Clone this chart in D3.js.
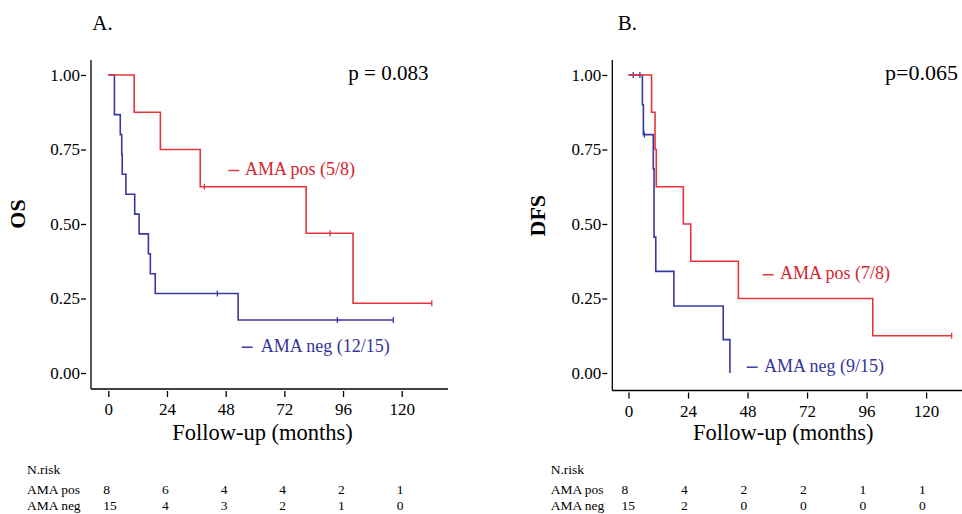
<!DOCTYPE html>
<html>
<head>
<meta charset="utf-8">
<script src="https://cdn.jsdelivr.net/npm/d3@7"></script>
<style>
  html, body { margin: 0; padding: 0; background: #fff; }
  svg { display: block; font-family: "Liberation Serif", "Times New Roman", serif; }
</style>
</head>
<body>
<svg id="chart" width="962" height="514"></svg>
<script>
// ---------- DATA ----------
const riskTimes = [0, 24, 48, 72, 96, 120];
const yTicks = [0, 0.25, 0.5, 0.75, 1];

// Panel A: overall survival
const osPosTimes  = [0, 10.6, 21.3, 37.6, 80.9, 100.1];
const osPosSurv   = [1, 0.875, 0.75, 0.625, 0.469, 0.234];
const osPosCensor = [39.3, 90.7, 132.3];
const osNegTimes  = [0, 2.5, 4.9, 5.5, 5.7, 7.2, 10.8, 12.6, 16.4, 17.2, 19.2, 53.1];
const osNegSurv   = [1, 0.867, 0.8, 0.733, 0.667, 0.6, 0.533, 0.467, 0.4, 0.333, 0.267, 0.178];
const osNegCensor = [44.6, 93.7, 116.6];
const osRiskPos = [8, 6, 4, 4, 2, 1];
const osRiskNeg = [15, 4, 3, 2, 1, 0];

// Panel B: disease-free survival
const dfsPosTimes  = [0, 9.3, 10.7, 11.2, 22.1, 25.1, 44.3, 98.5];
const dfsPosSurv   = [1, 0.875, 0.75, 0.625, 0.5, 0.375, 0.25, 0.125];
const dfsPosCensor = [130.3];
const dfsNegTimes  = [0, 5.6, 6.0, 10.0, 10.3, 11.0, 18.3, 38.2, 40.9];
const dfsNegSurv   = [1, 0.9, 0.8, 0.685, 0.456, 0.341, 0.225, 0.112, 0];
const dfsNegCensor = [1.9, 4.6, 6.4];
const dfsRiskPos = [8, 4, 2, 2, 1, 1];
const dfsRiskNeg = [15, 2, 0, 0, 0, 0];

const groupLabels = ["AMA pos", "AMA neg"];
const RED = "#e6353a", BLUE = "#3838a0";
const RED_TXT = "#d4252c", BLUE_TXT = "#34349a";

// ---------- DRAW ----------
const svg = d3.select("#chart");

function panel(cfg) {
  const g = svg.append("g");
  const x = d3.scaleLinear().domain([0, 120]).range([cfg.x0, cfg.x120]);
  const y = d3.scaleLinear().domain([0, 1]).range([373, 75]);

  // axis lines (L shape)
  g.append("line").attr("x1", cfg.axisX).attr("x2", cfg.axisX)
    .attr("y1", 60).attr("y2", cfg.axisY).attr("stroke", "#000").attr("stroke-width", 1.3);
  g.append("line").attr("x1", cfg.axisX).attr("x2", cfg.xEnd)
    .attr("y1", cfg.axisY).attr("y2", cfg.axisY).attr("stroke", "#000").attr("stroke-width", 1.3);

  // x axis ticks
  const xa = g.append("g").attr("transform", `translate(0,${cfg.axisY + 2})`)
    .call(d3.axisBottom(x).tickValues(riskTimes).tickSize(6).tickPadding(6).tickFormat(d3.format("d")));
  xa.select(".domain").remove();
  xa.selectAll(".tick line").attr("stroke", "#000").attr("stroke-width", 1.3);
  xa.selectAll("text").attr("font-size", 17).attr("font-family", "Liberation Serif, serif").attr("fill", "#000");

  // y axis ticks
  const ya = g.append("g").attr("transform", `translate(${cfg.axisX - 5},0)`)
    .call(d3.axisLeft(y).tickValues(yTicks).tickSize(5).tickPadding(1).tickFormat(d3.format(".2f")));
  ya.select(".domain").remove();
  ya.selectAll(".tick line").attr("stroke", "#000").attr("stroke-width", 1.3);
  ya.selectAll("text").attr("font-size", 17).attr("font-family", "Liberation Serif, serif").attr("fill", "#000");

  // curves
  const line = d3.line().curve(d3.curveStepAfter).x(d => x(d[0])).y(d => y(d[1]));
  function survAt(times, surv, t) {
    let s = surv[0];
    for (let i = 0; i < times.length; i++) if (times[i] <= t) s = surv[i];
    return s;
  }
  cfg.curves.forEach(c => {
    const pts = c.times.map((t, i) => [t, c.surv[i]]);
    const lastC = d3.max(c.censor);
    if (lastC > c.times[c.times.length - 1]) pts.push([lastC, c.surv[c.surv.length - 1]]);
    g.append("path").attr("d", line(pts)).attr("fill", "none")
      .attr("stroke", c.color).attr("stroke-width", 1.6);
    g.selectAll(null).data(c.censor).enter().append("line")
      .attr("x1", d => x(d)).attr("x2", d => x(d))
      .attr("y1", d => y(survAt(c.times, c.surv, d)) - 3)
      .attr("y2", d => y(survAt(c.times, c.surv, d)) + 3)
      .attr("stroke", c.color).attr("stroke-width", 1.3);
    // legend
    g.append("line").attr("x1", c.lx).attr("x2", c.lx + 11)
      .attr("y1", c.ly - 4.5).attr("y2", c.ly - 4.5).attr("stroke", c.color).attr("stroke-width", 1.5);
    g.append("text").attr("x", c.lx + c.tdx).attr("y", c.ly).attr("font-size", 18)
      .attr("fill", c.txt).text(c.label);
  });

  // title, p-value, axis titles
  g.append("text").attr("x", cfg.titleX).attr("y", 30).attr("font-size", 21).text(cfg.title);
  g.append("text").attr("x", cfg.pX).attr("y", 80).attr("font-size", cfg.pSize).text(cfg.p);
  g.append("text").attr("x", cfg.xtX).attr("y", 440).attr("font-size", 22.5)
    .attr("text-anchor", "middle").text("Follow-up (months)");
  g.append("text").attr("transform", `translate(${cfg.ytX},${cfg.ytY}) rotate(-90)`)
    .attr("text-anchor", "middle").attr("dy", "0.35em")
    .attr("font-size", 22).attr("font-weight", "bold").text(cfg.yTitle);

  // risk table
  const rowsY = [474, 494, 510];
  g.append("text").attr("x", cfg.riskLabelX).attr("y", rowsY[0]).attr("font-size", 13.5).text("N.risk");
  [cfg.riskPos, cfg.riskNeg].forEach((arr, r) => {
    g.append("text").attr("x", cfg.riskLabelX).attr("y", rowsY[r + 1]).attr("font-size", 13.5).text(groupLabels[r]);
    g.selectAll(null).data(arr).enter().append("text")
      .attr("x", (d, i) => x(riskTimes[i]) + cfg.riskDx)
      .attr("y", rowsY[r + 1]).attr("font-size", 13.5).text(d => d);
  });
}

panel({
  x0: 108.3, x120: 401.7, axisX: 91, axisY: 389, xEnd: 448,
  title: "A.", titleX: 92.3, p: "p = 0.083", pX: 348.3, pSize: 21,
  xtX: 262.5, yTitle: "OS", ytX: 17, ytY: 214,
  riskLabelX: 27, riskDx: -5, riskPos: osRiskPos, riskNeg: osRiskNeg,
  curves: [
    { times: osNegTimes, surv: osNegSurv, censor: osNegCensor, color: BLUE, txt: BLUE_TXT,
      label: "AMA neg (12/15)", lx: 241.7, ly: 351.7, tdx: 19 },
    { times: osPosTimes, surv: osPosSurv, censor: osPosCensor, color: RED, txt: RED_TXT,
      label: "AMA pos (5/8)", lx: 228.3, ly: 175, tdx: 16.7 }
  ]
});

panel({
  x0: 628.5, x120: 926.1, axisX: 612.3, axisY: 390.5, xEnd: 962,
  title: "B.", titleX: 617.7, p: "p=0.065", pX: 885, pSize: 22,
  xtX: 783.3, yTitle: "DFS", ytX: 537, ytY: 215.7,
  riskLabelX: 550.7, riskDx: -7, riskPos: dfsRiskPos, riskNeg: dfsRiskNeg,
  curves: [
    { times: dfsNegTimes, surv: dfsNegSurv, censor: dfsNegCensor, color: BLUE, txt: BLUE_TXT,
      label: "AMA neg (9/15)", lx: 746.7, ly: 371.7, tdx: 17.3 },
    { times: dfsPosTimes, surv: dfsPosSurv, censor: dfsPosCensor, color: RED, txt: RED_TXT,
      label: "AMA pos (7/8)", lx: 762.7, ly: 279.3, tdx: 17.3 }
  ]
});
</script>
</body>
</html>
